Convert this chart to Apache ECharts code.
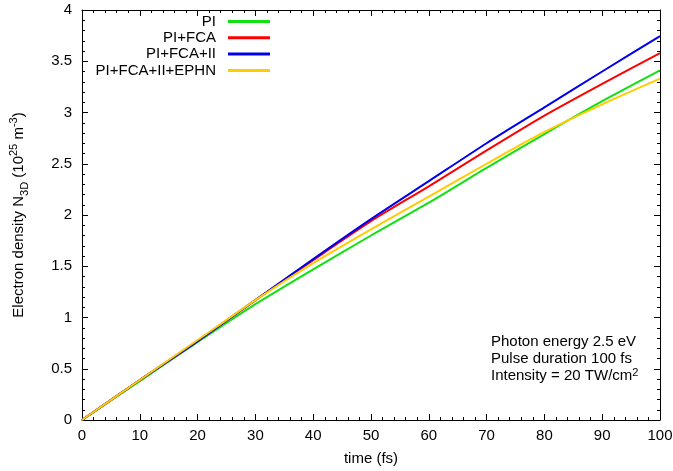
<!DOCTYPE html>
<html><head><meta charset="utf-8">
<script src="https://cdn.jsdelivr.net/npm/echarts@6/dist/echarts.min.js"></script>
<style>html,body{margin:0;padding:0;background:#fff}#c{width:673px;height:471px}</style>
</head><body><div id="c"></div>
<script>
var time = [0, 10, 20, 30, 40, 50, 60, 70, 80, 90, 100];
var pi = [0, 0.38, 0.76, 1.13, 1.47, 1.80, 2.12, 2.46, 2.79, 3.11, 3.41];
var piFca = [0, 0.39, 0.77, 1.17, 1.56, 1.94, 2.28, 2.63, 2.97, 3.28, 3.58];
var piFcaIi = [0, 0.39, 0.77, 1.17, 1.57, 1.96, 2.33, 2.70, 3.05, 3.40, 3.746];
var piFcaIiEphn = [0, 0.39, 0.78, 1.17, 1.53, 1.86, 2.18, 2.50, 2.81, 3.08, 3.33];
var names = ['PI', 'PI+FCA', 'PI+FCA+II', 'PI+FCA+II+EPHN'];
var colors = ['#11e011', '#ff0000', '#0000ee', '#ffcc00'];
var values = [pi, piFca, piFcaIi, piFcaIiEphn];
var xTicks = [0, 10, 20, 30, 40, 50, 60, 70, 80, 90, 100];
var yTicks = [0, 0.5, 1, 1.5, 2, 2.5, 3, 3.5, 4];

var FONT = 'Liberation Sans, Arial, sans-serif';
var FS = 15;
var chart = echarts.init(document.getElementById('c'));
function pair(arr){ return time.map(function(t,i){ return [t, arr[i]]; }); }
var series = names.map(function(n,i){
  return {name:n, type:'line', data:pair(values[i]), smooth:0.25, showSymbol:false, symbol:'none',
    lineStyle:{color:colors[i], width:2}, itemStyle:{color:colors[i]}, xAxisIndex:0, yAxisIndex:0, z:2+i};
});
var legends = names.map(function(n,i){
  return {data:[{name:n, icon:'rect'}], right:403, top:14+i*16.3, align:'right', orient:'horizontal',
    itemWidth:42, itemHeight:3, itemGap:0, padding:0, selectedMode:false,
    textStyle:{fontFamily:FONT, fontSize:FS, color:'#000', padding:[0,7,0,0]}};
});
function axisCommon(){
  return {
    axisLine:{show:true, onZero:false, lineStyle:{color:'#000', width:1}},
    axisTick:{show:true, inside:true, length:6, lineStyle:{color:'#000'}},
    minorTick:{show:true, splitNumber:5, length:3, lineStyle:{color:'#000'}},
    splitLine:{show:false}
  };
}
chart.setOption({
  animation:false,
  backgroundColor:'#fff',
  grid:{left:82, right:13, top:10, bottom:51, containLabel:false, outerBoundsMode:'none'},
  legend:legends,
  xAxis:[
    Object.assign({type:'value', min:0, max:100, interval:10, position:'bottom',
      name:'time (fs)', nameLocation:'middle', nameGap:31,
      nameTextStyle:{fontFamily:FONT, fontSize:FS, color:'#000'},
      axisLabel:{fontFamily:FONT, fontSize:FS, color:'#000', margin:8,
        formatter:function(v){ return xTicks.indexOf(v)>=0 ? String(v) : ''; }}}, axisCommon()),
    Object.assign({type:'value', min:0, max:100, interval:10, position:'top', axisLabel:{show:false}}, axisCommon())
  ],
  yAxis:[
    Object.assign({type:'value', min:0, max:4, interval:0.5, position:'left',
      name:'{a|Electron density N}{sub|3D}{a| (10}{sup|25}{a| m}{sup|-3}{a|)}',
      nameLocation:'middle', nameGap:52, nameRotate:90,
      nameTextStyle:{fontFamily:FONT, fontSize:15, color:'#000',
        rich:{a:{fontFamily:FONT, fontSize:15, color:'#000', lineHeight:22, verticalAlign:'middle'},
              sub:{fontFamily:FONT, fontSize:11, color:'#000', verticalAlign:'bottom', lineHeight:22},
              sup:{fontFamily:FONT, fontSize:11, color:'#000', verticalAlign:'top', lineHeight:22}}},
      axisLabel:{fontFamily:FONT, fontSize:FS, color:'#000', margin:10,
        formatter:function(v){ return yTicks.indexOf(v)>=0 ? String(v) : ''; }}}, axisCommon()),
    Object.assign({type:'value', min:0, max:4, interval:0.5, position:'right', axisLabel:{show:false}}, axisCommon())
  ],
  series:series,
  graphic:[
    {type:'text', left:491, top:334, z:100, style:{
      text:'Photon energy 2.5 eV\nPulse duration 100 fs\n{a|Intensity = 20 TW/cm}{s|2}',
      font:'15px Liberation Sans, Arial, sans-serif', fill:'#000', lineHeight:16.5,
      rich:{a:{fontSize:15, fontFamily:FONT, fill:'#000', lineHeight:16.5, verticalAlign:'bottom'},
            s:{fontSize:11, fontFamily:FONT, fill:'#000', lineHeight:16.5, verticalAlign:'top'}}}}
  ]
});
</script></body></html>
